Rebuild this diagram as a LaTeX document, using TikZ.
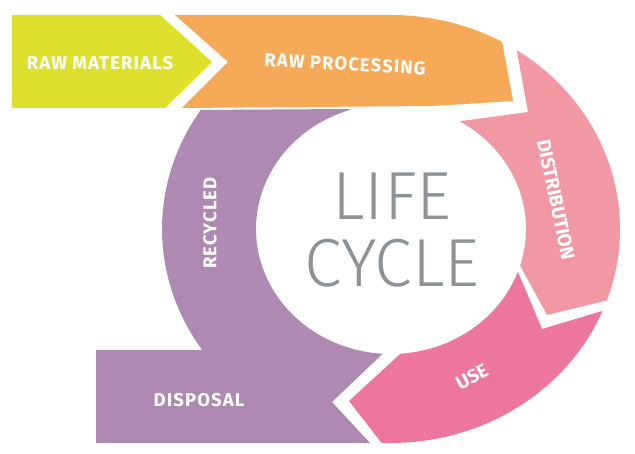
\documentclass[tikz,border=0pt]{standalone}
\usepackage{fontspec}
\newfontfamily\lblfont[Kerning=Off]{Fira Sans}
\newfontfamily\lblwidefont[LetterSpace=6]{Fira Sans}
\newfontfamily\lifefont{Fira Sans Light}
\definecolor{yellowc}{HTML}{DDE12B}
\definecolor{orangec}{HTML}{F6AA58}
\definecolor{distc}{HTML}{F298A2}
\definecolor{usec}{HTML}{EC769D}
\definecolor{purplec}{HTML}{AE8AB2}
\definecolor{lifegray}{HTML}{8C9296}
\begin{document}
\begin{tikzpicture}[x=1pt,y=-1pt,
  lbl/.style={font=\lblfont\bfseries\fontsize{19}{21}\selectfont, text=white, inner sep=0pt},
  lblwide/.style={font=\lblwidefont\bfseries\fontsize{18.5}{21}\selectfont, text=white, inner sep=0pt},
  life/.style={font=\lifefont\fontsize{68}{70}\selectfont, text=lifegray, inner sep=0pt, anchor=base}]
\def\Cx{391}\def\Cy{229}
\def\Rox{229}\def\Roy{214}
\def\Rix{135}\def\Riy{125}
\useasboundingbox (0,0) rectangle (635,454);
\fill[white] (0,0) rectangle (635,454);
% disposal / recycled
\fill[purplec] (96,350) -- plot[domain=145.6:213.8,samples=40] ({\Cx+\Rox*cos(\x)},{\Cy+\Roy*sin(\x)})
  -- (349.7,109) -- plot[domain=252.2:93.5,samples=80] ({\Cx+\Rix*cos(\x)},{\Cy+\Riy*sin(\x)})
  -- (332,402) -- (370,443) -- (96,443) -- cycle;
% raw materials
\fill[yellowc] (12,15) -- (160,15) -- (212,62) -- (165,108) -- (12,108) -- cycle;
% raw processing
\fill[orangec] (175,15) -- plot[domain=-90:-61,samples=30] ({\Cx+\Rox*cos(\x)},{\Cy+\Roy*sin(\x)})
  -- (513,101) -- (433,106) -- (182,108) -- (228,62) -- cycle;
% distribution
\fill[distc] plot[domain=-56.7:19.5,samples=60] ({\Cx+\Rox*cos(\x)},{\Cy+\Roy*sin(\x)})
  -- (547,315) -- plot[domain=17:-59.5,samples=60] ({\Cx+\Rix*cos(\x)},{\Cy+\Riy*sin(\x)})
  -- (528,112) -- cycle;
% use
\fill[usec] plot[domain=22.5:92.4,samples=60] ({\Cx+\Rox*cos(\x)},{\Cy+\Roy*sin(\x)})
  -- (349,401) -- plot[domain=86:20,samples=60] ({\Cx+\Rix*cos(\x)},{\Cy+\Riy*sin(\x)})
  -- (542,329) -- cycle;
% labels
\node[lblwide] (rawmat) at (100,63) {RAW MATERIALS};
\node[lblwide, rotate=-3] (rawproc) at (345,64) {RAW PROCESSING};
\node[lbl, rotate=-78] (distr) at (556,200) {DISTRIBUTION};
\node[lbl, rotate=28] (use) at (472,377) {USE};
\node[lblwide, rotate=90] (recyc) at (210,223) {RECYCLED};
\node[lblwide] (disp) at (199,400) {DISPOSAL};
\node[life] (life) at (392,220) {LIFE};
\node[life] (cycle) at (392,287) {CYCLE};
\end{tikzpicture}
\end{document}
